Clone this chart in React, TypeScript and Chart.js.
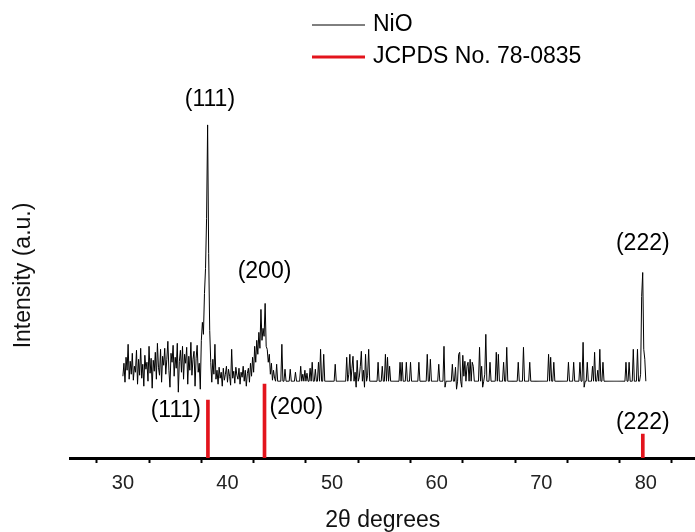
import React, { useEffect, useRef } from 'react';
import { Chart, registerables } from 'chart.js';

Chart.register(...registerables);

// ---------------- data ----------------
const ANGLE_START = 30; // 2θ of first sample (degrees)
const ANGLE_STEP = 0.1; // sampling step (degrees)

// NiO diffractogram intensities (a.u.), one value per 0.1°, 30.0° … 80.0°
const nioIntensity = [
  82, 95, 76, 101, 88, 114, 79, 97, 84, 105,
  78, 92, 86, 108, 74, 99, 83, 110, 80, 94,
  72, 103, 89, 96, 77, 112, 85, 100, 70, 98,
  87, 106, 79, 115, 91, 83, 109, 76, 102, 93,
  110, 84, 99, 117, 88, 71, 105, 96, 113, 82,
  101, 90, 115, 66, 97, 108, 86, 112, 79, 104,
  95, 111, 74, 102, 88, 116, 83, 99, 107, 72,
  100, 113, 86, 95, 69, 118, 136, 124, 165, 190,
  240, 334, 205, 128, 96, 76, 99, 84, 114, 79,
  88, 74, 91, 80, 86, 72, 90, 78, 84, 92,
  76, 89, 82, 73, 109, 80, 87, 75, 91, 83,
  79, 90, 74, 86, 81, 92, 77, 88, 72, 85,
  90, 76, 95, 82, 101, 86, 112, 96, 118, 104,
  126, 110, 149, 118, 130, 122, 155, 112, 109, 96,
  104, 84, 95, 78, 88, 80, 77, 94, 77, 77,
  77, 77, 114, 77, 77, 89, 77, 77, 77, 77,
  89, 77, 77, 77, 77, 86, 77, 77, 77, 77,
  92, 77, 84, 77, 88, 77, 85, 77, 77, 90,
  77, 96, 77, 77, 89, 77, 77, 96, 77, 109,
  77, 77, 104, 77, 77, 77, 77, 77, 77, 77,
  77, 77, 77, 94, 77, 77, 77, 77, 77, 77,
  77, 77, 77, 77, 101, 77, 84, 104, 77, 90,
  102, 77, 86, 71, 98, 77, 81, 92, 107, 77,
  88, 71, 104, 77, 83, 109, 77, 77, 77, 77,
  77, 77, 77, 77, 96, 77, 77, 77, 92, 77,
  77, 104, 77, 101, 77, 92, 77, 77, 77, 77,
  77, 77, 77, 77, 77, 96, 77, 96, 77, 77,
  77, 96, 77, 77, 77, 96, 77, 77, 77, 77,
  77, 77, 77, 96, 77, 77, 77, 77, 77, 77,
  77, 104, 77, 77, 99, 77, 77, 77, 77, 77,
  77, 77, 94, 77, 77, 77, 77, 112, 71, 77,
  77, 77, 77, 77, 77, 94, 77, 77, 91, 69,
  77, 104, 106, 77, 71, 103, 82, 97, 77, 92,
  96, 77, 99, 77, 96, 92, 77, 77, 77, 77,
  77, 111, 77, 92, 71, 77, 84, 124, 77, 77,
  77, 96, 77, 77, 77, 77, 77, 106, 77, 104,
  77, 77, 77, 77, 96, 77, 77, 111, 77, 77,
  77, 77, 77, 77, 77, 77, 77, 77, 96, 77,
  77, 77, 77, 111, 77, 77, 77, 77, 77, 96,
  77, 77, 77, 77, 77, 77, 77, 77, 77, 77,
  77, 77, 77, 77, 77, 77, 77, 104, 77, 101,
  77, 77, 96, 77, 77, 77, 77, 77, 77, 77,
  77, 77, 77, 77, 77, 77, 96, 77, 77, 77,
  77, 96, 77, 77, 77, 77, 77, 96, 77, 77,
  116, 71, 77, 77, 96, 77, 77, 77, 77, 92,
  77, 106, 77, 77, 88, 77, 109, 77, 77, 96,
  77, 77, 77, 77, 77, 77, 77, 77, 77, 77,
  77, 77, 77, 77, 77, 77, 77, 77, 77, 77,
  77, 96, 77, 77, 96, 77, 77, 77, 109, 77,
  77, 77, 109, 77, 77, 84, 162, 186, 109, 99,
  77,
];

// JCPDS No. 78-0835 reference lines
const jcpdsAngles = [38.13, 43.54, 79.71];
const jcpdsIntensity = [58, 74, 24];
const hklLabels = ['(111)', '(200)', '(222)'];

const seriesNames = ['NiO', 'JCPDS No. 78-0835'];
const xTickLabels = [30, 40, 50, 60, 70, 80];
const xTitle = '2θ degrees';
const yTitle = 'Intensity (a.u.)';

// ---------------- styling / layout ----------------
const FONT = 'Arial, "Liberation Sans", sans-serif';
const RED = '#e3141c';
const TEXT = '#111';

const topLabelOffset = [
  { dx: 2, dy: -25 },
  { dx: 0, dy: -32 },
  { dx: 0, dy: -29 },
];
const bottomLabelPlacement: { align: CanvasTextAlign; dx: number; dy: number }[] = [
  { align: 'right', dx: -7, dy: 10 },
  { align: 'left', dx: 5, dy: 23 },
  { align: 'center', dx: 0, dy: -11 },
];
const legendBox = { x1: 312, x2: 365, textX: 373, y0: 25, rowGap: 32 };

const nioPoints = nioIntensity.map((y, i) => ({
  x: Math.round((ANGLE_START + i * ANGLE_STEP) * 10) / 10,
  y,
}));
const jcpdsPoints = jcpdsAngles.map((x, i) => ({ x, y: jcpdsIntensity[i] }));

const overlayPlugin = {
  id: 'xrdOverlay',
  afterDraw(chart: any) {
    const ctx: CanvasRenderingContext2D = chart.ctx;
    const xs = chart.scales.x;
    const ys = chart.scales.y;
    ctx.save();
    ctx.font = `23px ${FONT}`;
    ctx.textBaseline = 'middle';
    ctx.fillStyle = '#000';

    // legend (two rows)
    chart.data.datasets.forEach((ds: any, i: number) => {
      const y = legendBox.y0 + i * legendBox.rowGap;
      ctx.beginPath();
      ctx.strokeStyle = i === 0 ? ds.borderColor : ds.backgroundColor;
      ctx.lineWidth = i === 0 ? 1 : 3;
      ctx.moveTo(legendBox.x1, y);
      ctx.lineTo(legendBox.x2, y);
      ctx.stroke();
      ctx.textAlign = 'left';
      ctx.fillText(ds.label, legendBox.textX, y);
    });

    // hkl annotations
    jcpdsAngles.forEach((a, i) => {
      let best = 0;
      nioPoints.forEach((p) => {
        if (Math.abs(p.x - a) <= 0.5 && p.y > best) best = p.y;
      });
      const px = xs.getPixelForValue(a);
      const peakY = ys.getPixelForValue(best);
      ctx.textAlign = 'center';
      ctx.fillText(hklLabels[i], px + topLabelOffset[i].dx, peakY + topLabelOffset[i].dy);

      const barTop = ys.getPixelForValue(jcpdsIntensity[i]);
      const pl = bottomLabelPlacement[i];
      ctx.textAlign = pl.align;
      ctx.fillText(hklLabels[i], px + pl.dx, barTop + pl.dy);
    });
    ctx.restore();
  },
};

export default function App() {
  const canvasRef = useRef<HTMLCanvasElement | null>(null);

  useEffect(() => {
    if (!canvasRef.current) return;
    Chart.defaults.font.family = FONT;
    const chart = new Chart(canvasRef.current, {
      type: 'line',
      data: {
        datasets: [
          {
            type: 'line',
            label: seriesNames[0],
            data: nioPoints,
            borderColor: '#000',
            borderWidth: 1,
            pointRadius: 0,
            tension: 0,
            fill: false,
          } as any,
          {
            type: 'bar',
            label: seriesNames[1],
            data: jcpdsPoints,
            backgroundColor: RED,
            borderWidth: 0,
            barThickness: 3,
          } as any,
        ],
      },
      options: {
        responsive: true,
        maintainAspectRatio: false,
        animation: false,
        devicePixelRatio: 1,
        layout: { padding: { top: 93, left: 0, right: 0, bottom: 0 } },
        plugins: {
          legend: { display: false },
          tooltip: { enabled: false },
          title: { display: false },
        },
        scales: {
          x: {
            type: 'linear',
            min: 25,
            max: 84.7,
            offset: false,
            border: { display: true, color: '#000', width: 3 },
            grid: {
              display: true,
              drawOnChartArea: false,
              drawTicks: true,
              tickLength: 5,
              tickWidth: 2,
              tickColor: '#000',
            },
            ticks: {
              stepSize: 5,
              autoSkip: false,
              includeBounds: false,
              maxRotation: 0,
              padding: 8,
              color: '#222',
              font: { size: 20 },
              callback: (v: any) => {
                const r = Math.round(Number(v));
                return Math.abs(Number(v) - r) < 1e-6 && xTickLabels.includes(r) ? String(r) : '';
              },
            },
            title: {
              display: true,
              text: xTitle,
              color: TEXT,
              font: { size: 23, lineHeight: 1 },
              padding: { top: 6, bottom: 0 },
            },
          },
          y: {
            min: 0,
            max: 366,
            border: { display: false },
            grid: { display: false, drawTicks: false },
            ticks: { display: false },
            title: {
              display: true,
              text: yTitle,
              color: TEXT,
              font: { size: 23 },
              padding: { top: 10, bottom: 33 },
            },
          },
        },
      } as any,
      plugins: [overlayPlugin],
    });
    return () => chart.destroy();
  }, []);

  return (
    <div style={{ position: 'absolute', left: 0, top: 0, width: 695, height: 532, background: '#fff' }}>
      <canvas ref={canvasRef} />
    </div>
  );
}
